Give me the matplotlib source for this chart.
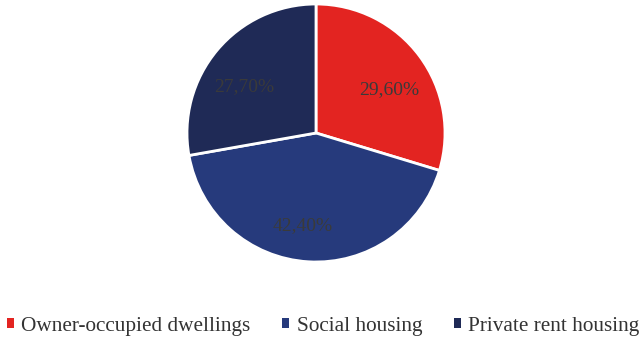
import matplotlib
matplotlib.use("Agg")
import matplotlib.pyplot as plt
from matplotlib.patches import Patch

categories = ["Owner-occupied dwellings", "Social housing", "Private rent housing"]
shares = [29.60, 42.40, 27.70]
colors = ["#E32421", "#263A7C", "#1F2A56"]

# label anchor points inside each wedge (pie radius = 1)
label_xy = [(0.570, 0.333), (-0.101, -0.721), (-0.558, 0.360)]

plt.rcParams["font.family"] = ["Liberation Serif", "DejaVu Serif"]

fig = plt.figure(figsize=(6.4, 3.41), dpi=100)
ax = fig.add_axes([187 / 640, 79 / 341, 258 / 640, 258 / 341])

wedges, texts = ax.pie(
    shares,
    colors=colors,
    startangle=90,
    counterclock=False,
    wedgeprops=dict(edgecolor="white", linewidth=2),
)
for v, (x, y) in zip(shares, label_xy):
    ax.text(x, y, f"{v:.2f}%".replace(".", ","), ha="center", va="center",
            fontsize=14, color="#3a3a3a")
ax.set_xlim(-1, 1)
ax.set_ylim(-1, 1)
ax.set_aspect("equal")

handles = [Patch(facecolor=c, edgecolor="none") for c in colors]
fig.legend(
    handles,
    categories,
    loc="center",
    bbox_to_anchor=(0.505, 1 - 326 / 341),
    ncol=3,
    frameon=False,
    fontsize=15.3,
    handlelength=0.33,
    handleheight=0.33,
    handletextpad=0.35,
    columnspacing=1.5,
    labelcolor="#333333",
    borderpad=0,
)

fig.savefig("out.png", dpi=100, facecolor="white")
